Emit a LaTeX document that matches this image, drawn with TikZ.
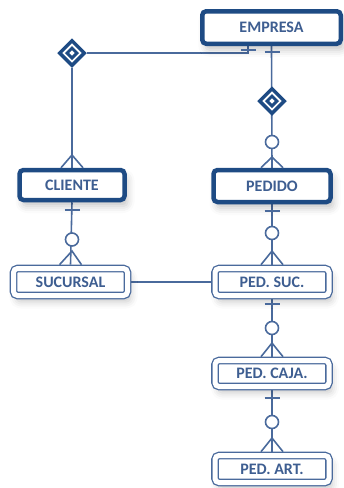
\documentclass[tikz,border=0pt]{standalone}
\usepackage{fontspec}
\setmainfont{Carlito}
\usetikzlibrary{shapes.geometric,backgrounds,shadows.blur}
\definecolor{boxc}{HTML}{1E4B84}
\definecolor{linec}{HTML}{4A6A9C}
\definecolor{textc}{HTML}{3E5E91}
\tikzset{
  shad/.style={blur shadow={shadow xshift=3pt, shadow yshift=-6pt, shadow blur radius=7pt, shadow opacity=22}},
  ent/.style={draw=boxc, line width=4.5pt, rounded corners=4pt, fill=white, inner sep=0pt,
    font=\fontsize{16}{19}\selectfont\bfseries, text=textc, shad},
  weak/.style={draw=linec, line width=1.3pt, double=white, double distance=5pt, rounded corners=4pt,
    fill=white, inner sep=0pt, outer sep=3.8pt, minimum width=114pt, minimum height=27pt,
    font=\fontsize{16}{19}\selectfont\bfseries, text=textc, shad},
  conn/.style={draw=linec, line width=1.6pt},
  relout/.style={diamond, aspect=1, draw=boxc, line width=3.5pt, fill=white, inner sep=0pt, minimum width=26pt, minimum height=26pt},
  relin/.style={diamond, aspect=1, draw=boxc, line width=3pt, fill=white, inner sep=0pt, minimum width=11pt, minimum height=11pt},
  opt/.style={circle, draw=linec, line width=1.6pt, fill=white, inner sep=0pt, minimum size=13pt},
}
\begin{document}
\begin{tikzpicture}[x=1pt,y=-1pt]
\useasboundingbox (0,0) rectangle (344,488);
% entities
\node[ent, minimum width=138.5pt, minimum height=32.5pt] (emp) at (271.5,27.5) {EMPRESA};
\node[ent, minimum width=105pt, minimum height=30pt] (cli) at (72,185) {CLIENTE};
\node[ent, minimum width=117pt, minimum height=32pt] (ped) at (272,186) {PEDIDO};
\node[weak] (suc) at (70.5,282) {SUCURSAL};
\node[weak] (psuc) at (272,282) {PED. SUC.};
\node[weak, minimum height=26pt] (pcaja) at (272,373.5) {PED. CAJA.};
\node[weak] (part) at (272,469) {PED. ART.};
% relationships
\node[relout] (d1) at (72,53) {};
\node[relin] (d1i) at (72,53) {};
\node[relout] (d2) at (272,101) {};
\node[relin] (d2i) at (272,101) {};
% optional circles
\node[opt] (c1) at (272,142) {};
\node[opt] (c2) at (72,239.5) {};
\node[opt] (c3) at (272,233) {};
\node[opt] (c4) at (272,328) {};
\node[opt] (c5) at (272,422) {};
% helper coordinates
\coordinate (k1) at (248,53);
\coordinate (a0) at (72,155);
\coordinate (a1) at (272,157);
\coordinate (a2) at (72,251);
\coordinate (a3) at (272,251);
\coordinate (a4) at (272,343);
\coordinate (a5) at (272,438);
\coordinate (t0) at (248,50);
\coordinate (t1) at (272,52);
\coordinate (t2) at (72,210);
\coordinate (t3) at (272,211);
\coordinate (t4) at (272,304);
\coordinate (t5) at (272,398);
\begin{scope}[on background layer]
  % main lines
  \draw[conn] (d1) -- (k1) -- (k1 |- emp.south);
  \draw[conn] (d1) -- (cli.north);
  \draw[conn] (emp.south) -- (ped.north);
  \draw[conn] (cli.south) -- (suc.north);
  \draw[conn] (ped.south) -- (psuc.north);
  \draw[conn] (psuc.south) -- (pcaja.north);
  \draw[conn] (pcaja.south) -- (part.north);
  \draw[conn] (suc.east) -- (psuc.west);
\end{scope}
% crow's feet
\foreach \ap/\bx in {a0/cli, a1/ped, a2/suc, a3/psuc, a4/pcaja, a5/part}{
  \draw[conn] ([xshift=-11pt]\bx.north) -- (\ap) -- ([xshift=11pt]\bx.north);
}
% ticks
\foreach \t in {t0,t1,t2,t3,t4,t5}{
  \draw[conn] ([xshift=-7.5pt]\t) -- ([xshift=7.5pt]\t);
}
\end{tikzpicture}
\end{document}
